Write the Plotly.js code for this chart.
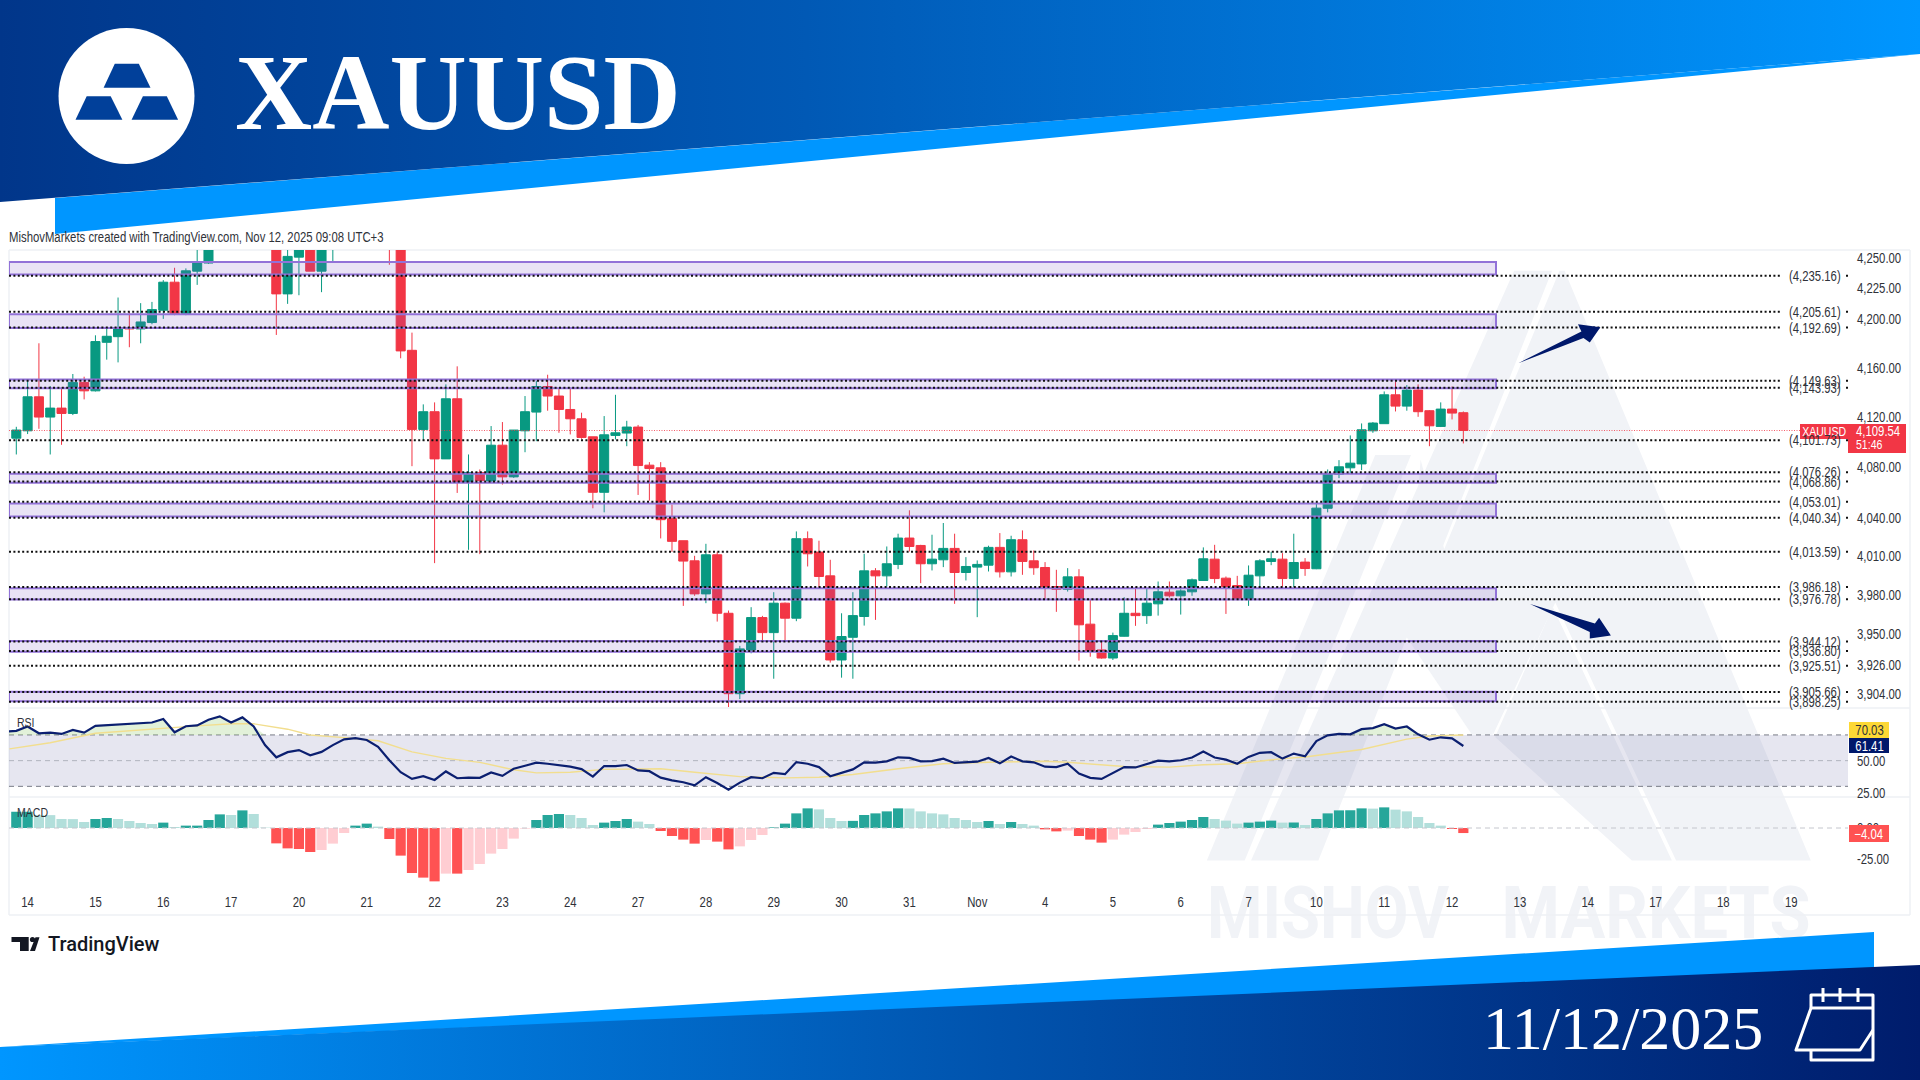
<!DOCTYPE html>
<html>
<head>
<meta charset="utf-8">
<title>XAUUSD</title>
<script src="https://cdn.plot.ly/plotly-3.0.1.min.js"></script>
<style>
html,body{margin:0;padding:0;background:#fff;width:1920px;height:1080px;overflow:hidden}
#bg{position:absolute;left:0;top:0;z-index:0}
#plot{position:absolute;left:0;top:0;width:1920px;height:1080px;z-index:1}
</style>
</head>
<body>
<svg id="bg" width="1920" height="1080" viewBox="0 0 1920 1080" xmlns="http://www.w3.org/2000/svg">
  <defs>
    <linearGradient id="topGrad" gradientUnits="userSpaceOnUse" x1="0" y1="0" x2="1920" y2="0">
      <stop offset="0" stop-color="#01368a"/><stop offset="0.42" stop-color="#0159b5"/><stop offset="1" stop-color="#0096ff"/>
    </linearGradient>
    <linearGradient id="botGrad" gradientUnits="userSpaceOnUse" x1="0" y1="0" x2="1920" y2="0">
      <stop offset="0" stop-color="#0096ff"/><stop offset="0.52" stop-color="#0153ad"/><stop offset="1" stop-color="#001c6c"/>
    </linearGradient>
  </defs>
  <polygon points="55,198 1920,54 55,234" fill="#0096ff"/>
  <polygon points="0,0 1920,0 1920,54 0,202" fill="url(#topGrad)"/>
  <circle cx="126.5" cy="96" r="68" fill="#fff"/>
  <g fill="#01409a">
    <polygon points="114.8,63.7 138.8,63.7 150.5,87.7 103.6,87.7"/>
    <polygon points="86.7,96.3 110.7,96.3 122.4,119.7 75.5,119.7"/>
    <polygon points="142.9,96.3 166.8,96.3 178.1,119.7 131.6,119.7"/>
  </g>
  <g fill="#f1f3f7">
    <polygon points="1206.8,860.6 1375.2,455.1 1411,455.1 1244.7,860.6"/>
    <polygon points="1514.1,270.8 1552,270.8 1318.4,860.6 1251,860.6"/>
    <polygon points="1559.5,270.8 1564.6,270.8 1810.8,860.6 1676.1,860.6 1555.3,602.6 1493,734.8 1438.3,563.6"/>
    <polygon points="1552.8,606.9 1671.9,860.6 1631.9,860.6 1495.1,737"/>
    <polygon points="1420.6,459.5 1493,734.8 1472,734.8 1406.7,637.3"/>
  </g>
  <text x="1328" y="938" text-anchor="middle" font-family="Roboto" font-weight="700" font-size="72" textLength="242" lengthAdjust="spacingAndGlyphs" fill="#f1f3f7">MISHOV</text>
  <text x="1656" y="938" text-anchor="middle" font-family="Roboto" font-weight="700" font-size="72" textLength="309" lengthAdjust="spacingAndGlyphs" fill="#f1f3f7">MARKETS</text>
  <polygon points="0,1047 1874,932 1874,970 0,1047" fill="#0096ff"/>
  <polygon points="0,1047 1920,965 1920,1080 0,1080" fill="url(#botGrad)"/>
  <g fill="none" stroke="#fff" stroke-width="3" stroke-linejoin="round">
    <path d="M1811 1008 V995 H1873 V1060 H1811 V1050"/>
    <path d="M1811 1008 H1873"/>
    <path d="M1811 1008 L1796 1050 H1860 L1873 1030"/>
    <path d="M1823 988 V1002 M1840 988 V1002 M1858 988 V1002"/>
  </g>
  <g fill="#131722">
    <path d="M11.5 937 H28.7 V951 H20 V942 H11.5 Z"/>
    <circle cx="32.5" cy="939.5" r="2.6"/>
    <polygon points="30,951 35.5,937.2 39.5,937.2 35,951"/>
  </g>
</svg>
<div id="plot"></div>
<script>
// ---------- price series (4h bars) ----------
var opens = [
 4103.4,4109.3,4136.6,4120.3,4127.5,4123.2,4148.2,4141.4,4180.7,4185.3,
 4192.7,4191.6,4196.8,4206.9,4229.9,4203.6,4239,4245.7,4270,4292,
 4318,4340,4358,4310,4220.3,4250.6,4270,4239,4265,4285,
 4300,4320,4305,4285,4270,4174.2,4110.4,4124.6,4086.9,4135,
 4068.4,4076.1,4069.4,4097.8,4072.6,4109.3,4124.3,4144.9,4137.2,4126.4,
 4118.9,4104.5,4060.4,4105.6,4107.5,4112.3,4081.9,4079.8,4039.6,4022.3,
 4006.6,3980.9,4011.3,3965.9,3904.3,3937.7,3962.6,3951,3973.7,3962.1,
 4023.9,4013.4,3994.9,3930,3947.4,3963.4,3998.8,3994.9,4003.8,4024.4,
 4018.6,4004.3,4007.4,4016.3,3997.5,4001.7,4003.2,4017.1,3998,4023.1,
 4006.6,4001.4,3986.6,3984.5,3994.1,3957.5,3937.7,3931.5,3948.2,3965.9,
 3964.1,3973.2,3982.2,3979.4,3982.5,3991.3,4007.9,3993.1,3987.4,3976.5,
 3994.9,4006.1,4007.9,3992.8,4005.6,4000.4,4047.8,4074.7,4079.8,4082.9,
 4109.3,4115,4138.2,4129.1,4142,4125.4,4112.8,4126.7,4123.8];
var highs = [
 4112.5,4149.5,4179.9,4145.2,4143.9,4155,4152.8,4186.4,4192.7,4217.3,
 4205.5,4212.7,4213.7,4231.6,4241.8,4241.3,4258.4,4290,4300,4325,
 4345,4365,4381,4330,4262,4275,4285,4280,4290,4310,
 4330,4340,4325,4300,4285,4188.6,4130.5,4132.1,4146.6,4161.2,
 4090.4,4078.5,4113.1,4116.3,4109.9,4137.2,4149.5,4154.4,4143.1,4143.9,
 4123.8,4104.5,4121.1,4138.2,4117.3,4114,4084.3,4084.3,4050.7,4022.3,
 4010.5,4019.9,4013.6,3968,3940.8,3970.6,3963.9,3982.2,3974.2,4029.6,
 4029.6,4022.3,4007.4,3965.9,3982.2,4012.1,4000.9,4017.8,4027.8,4046.2,
 4019.1,4027,4036.2,4027.8,4009.5,4006.9,4018.4,4028.3,4026.2,4030.4,
 4014.7,4005.6,3999.6,4000.9,4000.1,3976.3,3944.9,3951,3978.3,3986.1,
 3985.3,3990.5,3990.5,3984.5,3992.8,4017.1,4019.1,3994.4,3994.9,4003,
 4007.9,4013.6,4012.6,4027.8,4008.7,4052.5,4078.5,4085.9,4105.6,4115.2,
 4116.3,4140.9,4149,4146,4146.6,4125.9,4132.1,4144.9,4124.8];
var lows = [
 4090.4,4106.7,4110.9,4090.4,4098.1,4121.9,4134.5,4140.9,4166.6,4164.4,
 4176.7,4179.9,4195.4,4199.8,4202.8,4202.8,4227.7,4245,4262,4280,
 4300,4325,4290,4186.7,4212.1,4219.2,4239,4221.7,4246.8,4270,
 4285,4295,4275,4244.3,4167.7,4081.1,4101.3,4004.8,4086.9,4059.9,
 4015.2,4011.8,4068.4,4066.5,4071.8,4092.2,4101,4125.4,4107.7,4106.4,
 4102.9,4047.8,4044.6,4102.4,4097,4058.3,4053.8,4024.1,4013.6,3971.6,
 3979.4,3973.7,3959.5,3893.9,3900.2,3935.1,3944.9,3915.7,3944.9,3959.8,
 4002.2,3986.1,3928,3916.5,3915.7,3956.4,3960.8,3986.6,4000.1,4013.9,
 3989.2,3999.1,4001.7,3973.2,3991.3,3962.9,3998.3,3993.6,3994.4,3995.7,
 3995.7,3976.3,3967,3982.7,3929.5,3932.5,3931,3930,3948,3956.2,
 3957.7,3964.1,3978.1,3964.9,3979.4,3991.3,3989.2,3965.4,3976.3,3971.6,
 3986.1,4003.2,3986.6,3986.1,3994.9,4000.1,4044.6,4071.6,4075.3,4077.9,
 4107.7,4115,4124.8,4125.4,4120.5,4097,4112.3,4118.4,4099.2];
var closes = [
 4109.9,4136.6,4120.3,4127.5,4123.2,4148.2,4141.4,4181.3,4185.6,4192.2,
 4191.6,4197.3,4207.4,4229.9,4203.6,4239.3,4246.8,4270,4292,4318,
 4340,4358,4310,4220.3,4251.2,4268,4239,4265,4285,4300,
 4320,4305,4285,4270,4173.7,4110.4,4124.6,4086.9,4135,4068.4,
 4076.1,4069.7,4097.8,4072.6,4109.9,4124.6,4144.9,4137.2,4126.4,4118.9,
 4104,4060.4,4106.1,4107.7,4112.3,4081.6,4079.2,4038.8,4021.8,4006.4,
 3980.9,4011.3,3965.9,3904.3,3938.5,3962.6,3951,3973.7,3962.1,4023.9,
 4012.1,3994.4,3930,3948,3964.1,3998.8,3994.9,4004.3,4024.4,4017.8,
 4004.3,4007.9,4016.3,3997.5,4002.2,4003.8,4017.1,3998,4023.1,4006.1,
 4001.2,3986.1,3984.5,3994.1,3957,3936.6,3931.5,3948.7,3965.9,3964.1,
 3973.7,3982.5,3979.4,3983.2,3991.8,4008.2,3992.8,3986.6,3976.5,3995.4,
 4006.6,4008.2,3992.8,4005.3,4000.6,4047.9,4075.3,4080.6,4083.5,4110.1,
 4115.5,4138.2,4129.1,4142,4124.6,4113.3,4126.7,4123.5,4109.54];

// ---------- indicators ----------
var rsi = [
 73.2,76.6,71.3,71.8,70.8,73.9,71.8,77.1,77.6,78.2,78.2,78.7,79.7,82.4,72.1,76.8,77.4,81.8,84.5,79.7,
 83.7,76.6,62.1,52.6,56.6,58.2,54.2,56.8,62.1,66.6,67.6,66.1,60.8,50.3,41,35.8,37.9,35,41.6,36.3,
 36.8,36.6,40.8,38.2,43.7,46,48.4,47.6,46.3,45.3,43.4,37.6,45.8,45.8,46.6,42.4,41.8,36.8,34.7,33.2,
 30.8,37.1,32.6,27.4,32.9,37.1,36.3,40.5,39.5,48.9,47.6,45,37.9,40.3,43.2,48.7,48.4,49.5,52.6,52.1,
 49.5,49.7,51.6,48.2,48.7,49.2,52.1,47.9,53.2,49.5,48.7,45.3,45,47.6,40,36.6,35.8,40.5,45,44.7,
 47.4,50,49.5,50.3,52.4,57.1,52.4,50.8,47.6,52.9,56.1,56.6,51.6,55.5,53.4,65.3,69.7,70.8,70.5,74.5,
 75.3,78.4,75,76.6,70.5,66.3,68.2,67.4,61.41];
var rsiLead = 72.8;
var rsiMaBars = [-0.6,3,7,10,13,16,19,21,24,26,29,32,35,38,41,44,46,49,52,55,57,60,64,68,71,74,78,82,86,91,93,98,102,105,108,112,114,119,122,123,125,128];
var rsiMa = [59.2,63.9,71.3,73.2,75.5,77.1,78.7,78.7,74.5,70,67.9,65.5,56.8,51.8,48.7,42.9,40.5,41,43.2,43.7,43.7,41,37.6,36.6,37.1,39.2,43.7,47.6,48.7,49.5,48.7,45.5,45,46.8,47.6,51.6,52.9,58.7,64.7,66.8,69.2,70.03];
var macd = [
 13,13,10.4,10.3,7.2,7.1,4.8,7.2,8,7.2,5.6,4,3.2,4.3,0.8,1.9,1.9,6.4,10.9,10.4,
 14.1,11.2,0.3,-12.3,-16.3,-16.8,-19.2,-17.6,-12.5,-4,1.9,3.5,1.1,-8.8,-22.1,-36,-39.7,-42.7,-36.5,-36.5,
 -33.6,-28.8,-20.5,-16.8,-8.5,-0.5,6.4,10.4,11.2,10.4,8,2.4,4.3,5.6,7.2,5.1,3.2,-2.4,-6.4,-9.3,
 -12.5,-9.6,-10.9,-17.1,-14.7,-9.6,-5.6,0.5,3.5,11.7,15.7,14.9,8,5.6,5.7,10.4,11.7,13.3,15.7,15.6,
 13.3,11.7,10.9,8,6.4,4.8,5.6,3.2,4.8,3.2,1.9,-1.1,-2.7,-2.1,-6.4,-9.3,-11.7,-9.3,-5.3,-3.2,
 -0.8,2.7,4,5.1,6.4,8.8,7.2,5.9,3.5,4.3,5.1,5.9,4.3,4.4,2.4,7.2,11.7,14.1,14.2,15.7,
 15.5,16.5,14.7,13.3,8.8,4,1.9,-0.8,-4.04];

// ---------- levels, zones, labels ----------
var levels = [4235.16,4205.61,4192.69,4149.63,4143.93,4101.73,4076.26,4068.86,4053.01,4040.34,4013.59,3986.18,3976.78,3944.12,3936.80,3925.51,3905.66,3898.25];
var zoneTops = [4246.6,4203.5,4150.6,4075,4051.5,3985.3,3944.6,3905.7];
var zoneBottoms = [4236.3,4192.4,4143.4,4068,4041.4,3976.5,3936.4,3898.6];
var lastPrice = 4109.54;
var priceTicks = [4250,4225,4200,4160,4120,4080,4040,4010,3980,3950,3926,3904];
var rsiTicks = [50,25];
var rsiLevels = [70.03,50,30];
var macdTicks = [0,-25];
var dayBars = [1,7,13,19,25,31,37,43,49,55,61,67,73,79,85,91,97,103,109,115,121,127,133,139,145,151,157];
var dayLabels = ['14','15','16','17','20','21','22','23','24','27','28','29','30','31','Nov','4','5','6','7','10','11','12','13','14','17','18','19'];

var W = 1920, H = 1080;
var NARROW = '"Liberation Sans",Arial,sans-serif';
var INK = '#2f3239';
var SQUEEZE = 0.81;
var px = function (X) { return X / W; };
var py = function (Y) { return 1 - Y / H; };
// pane geometry in screen pixels
var plotL = 9, plotR = 1848, firstBarX = 16.3, barStep = 11.305;
var barAt = function (X) { return (X - firstBarX) / barStep; };
var xL = barAt(plotL), xR = barAt(plotR), zoneEnd = barAt(1496), levelEnd = barAt(1780);
var bars = closes.map(function (_, i) { return i; });

function fmt(v) { return v.toLocaleString('en-US', {minimumFractionDigits: 2, maximumFractionDigits: 2}); }

var traces = [];
// zones
zoneTops.forEach(function (t, k) {
  var b = zoneBottoms[k];
  traces.push({type: 'scatter', mode: 'lines', xaxis: 'x', yaxis: 'y', hoverinfo: 'skip', showlegend: false,
    x: [xL, zoneEnd, zoneEnd, xL, xL], y: [t, t, b, b, t], fill: 'toself',
    fillcolor: 'rgba(126,87,194,0.17)', line: {color: '#9272d8', width: 2}});
});
// dotted levels
levels.forEach(function (v) {
  traces.push({type: 'scatter', mode: 'lines', xaxis: 'x', yaxis: 'y', hoverinfo: 'skip', showlegend: false,
    x: [xL, levelEnd, null, barAt(1846), barAt(1848)], y: [v, v, null, v, v],
    line: {color: '#101010', width: 2, dash: '2px,2.4px'}});
});
// last price line
traces.push({type: 'scatter', mode: 'lines', xaxis: 'x', yaxis: 'y', hoverinfo: 'skip', showlegend: false,
  x: [xL, barAt(1800)], y: [lastPrice, lastPrice], line: {color: '#f23645', width: 0.8, dash: '1px,1.5px'}});
// candles
traces.push({type: 'candlestick', xaxis: 'x', yaxis: 'y', x: bars, open: opens, high: highs, low: lows, close: closes,
  whiskerwidth: 0, hoverinfo: 'skip', showlegend: false,
  increasing: {line: {color: '#089981', width: 1}, fillcolor: '#089981'},
  decreasing: {line: {color: '#f23645', width: 1}, fillcolor: '#f23645'}});
// RSI guide lines
rsiLevels.forEach(function (v) {
  traces.push({type: 'scatter', mode: 'lines', xaxis: 'x', yaxis: 'y2', hoverinfo: 'skip', showlegend: false,
    x: [xL, xR], y: [v, v], line: {color: v === 50 ? '#b0b3bd' : '#787b86', width: 1, dash: '5px,4px'}});
});
// RSI overbought fill
var rsiBars = [xL].concat(bars);
var rsiFull = [rsiLead].concat(rsi);
traces.push({type: 'scatter', mode: 'lines', xaxis: 'x', yaxis: 'y2', hoverinfo: 'skip', showlegend: false,
  x: rsiBars, y: rsiBars.map(function () { return rsiLevels[0]; }), line: {width: 0, color: 'rgba(0,0,0,0)'}});
traces.push({type: 'scatter', mode: 'lines', xaxis: 'x', yaxis: 'y2', hoverinfo: 'skip', showlegend: false,
  x: rsiBars, y: rsiFull.map(function (v) { return Math.max(v, rsiLevels[0]); }), fill: 'tonexty',
  fillcolor: 'rgba(150,205,120,0.28)', line: {width: 0, color: 'rgba(0,0,0,0)'}});
traces.push({type: 'scatter', mode: 'lines', xaxis: 'x', yaxis: 'y2', hoverinfo: 'skip', showlegend: false,
  x: rsiMaBars, y: rsiMa, line: {color: '#f2de8e', width: 1.4}});
traces.push({type: 'scatter', mode: 'lines', xaxis: 'x', yaxis: 'y2', hoverinfo: 'skip', showlegend: false,
  x: rsiBars, y: rsiFull, line: {color: '#0b1f70', width: 2.2}});
// MACD
traces.push({type: 'scatter', mode: 'lines', xaxis: 'x', yaxis: 'y3', hoverinfo: 'skip', showlegend: false,
  x: [xL, xR], y: [0, 0], line: {color: '#c4c6cd', width: 1, dash: '5px,4px'}});
var macdColors = macd.map(function (v, i) {
  var prev = i ? macd[i - 1] : v;
  if (v >= 0) return v >= prev ? '#26a69a' : '#b2dfdb';
  return v <= prev ? '#ff5252' : '#ffcdd2';
});
traces.push({type: 'bar', xaxis: 'x', yaxis: 'y3', x: bars, y: macd, width: 0.9, hoverinfo: 'skip', showlegend: false,
  marker: {color: macdColors, line: {width: 0}}});

function rect(x0, y0, x1, y1, color) {
  return {type: 'rect', xref: 'paper', yref: 'paper', x0: px(x0), x1: px(x1), y0: py(y0), y1: py(y1), fillcolor: color, line: {width: 0}, layer: 'above'};
}
function poly(points, color) {
  var d = points.map(function (p, i) { return (i ? 'L' : 'M') + px(p[0]) + ' ' + py(p[1]); }).join(' ') + ' Z';
  return {type: 'path', xref: 'paper', yref: 'paper', path: d, fillcolor: color, line: {width: 0}, layer: 'above'};
}
function frameLine(x0, y0, x1, y1) {
  return {type: 'line', xref: 'paper', yref: 'paper', x0: px(x0), x1: px(x1), y0: py(y0), y1: py(y1), line: {color: '#eef0f5', width: 1.5}, layer: 'below'};
}
var NAVY = '#00186b';
var shapes = [
  frameLine(9, 250, 1910, 250), frameLine(9, 915, 1910, 915), frameLine(9, 250, 9, 915), frameLine(1910, 250, 1910, 915),
  frameLine(9, 708, 1910, 708), frameLine(9, 797, 1910, 797),
  {type: 'rect', xref: 'x', yref: 'y2', x0: xL, x1: xR, y0: rsiLevels[2], y1: rsiLevels[0], fillcolor: 'rgba(115,115,170,0.18)', line: {width: 0}, layer: 'below'},
  poly([[1518.3,363.2],[1581.4,331.6],[1578,324.2],[1600.4,327.2],[1589.8,342.4],[1583.5,338]], NAVY),
  poly([[1530,603.9],[1594.9,623.4],[1599.1,617.8],[1610.9,635.5],[1589.8,638.6],[1589.8,632.1]], NAVY),
  rect(1800, 424, 1848, 439, '#f23645'),
  rect(1848, 424, 1906, 453, '#f23645'),
  rect(1849, 722, 1889, 738, '#fdd835'),
  rect(1849, 738, 1889, 753, NAVY),
  rect(1849, 825, 1889, 842, '#ff5252')
];

function label(X, Y, text, size, color, family, anchor, weight) {
  return {xref: 'paper', yref: 'paper', x: px(X), y: py(Y), text: text, showarrow: false,
    xanchor: anchor || 'left', align: anchor || 'left', yanchor: 'middle',
    font: {size: size, color: color || INK, family: family || NARROW, weight: weight || 400},
    borderpad: 0, borderwidth: 0};
}
var annotations = [
  label(458, 93, 'XAUUSD', 107, '#ffffff', '"Liberation Serif",serif', 'center', 700),
  label(1623, 1028, '11/12/2025', 62, '#ffffff', '"Liberation Serif",serif', 'center', 400),
  label(9, 237, 'MishovMarkets created with TradingView.com, Nov 12, 2025 09:08 UTC+3', 14, INK),
  label(48, 944, 'TradingView', 20, '#131722', 'Roboto,sans-serif', 'left', 500),
  label(17, 722, 'RSI', 13, INK),
  label(17, 812, 'MACD', 13, INK),
  label(1824, 431.5, 'XAUUSD', 13, '#ffffff', null, 'center'),
  label(1856, 431, fmt(lastPrice), 14, '#ffffff'),
  label(1856, 445, '51:46', 13, '#ffffff'),
  label(1869, 730, fmt(rsiMa[rsiMa.length - 1]), 14, '#2f3239', null, 'center'),
  label(1869, 745.5, fmt(rsi[rsi.length - 1]), 14, '#ffffff', null, 'center'),
  label(1869, 834, fmt(macd[macd.length - 1]).replace('-', '\u2212'), 14, '#ffffff', null, 'center')
];
levels.forEach(function (v) {
  annotations.push({xref: 'x', yref: 'y', x: barAt(1788), y: Math.log10(v), text: '(' + fmt(v) + ')', showarrow: false,
    xanchor: 'left', align: 'left', yanchor: 'middle', font: {size: 14, color: INK, family: NARROW}, borderpad: 0});
});

var layout = {
  width: W, height: H, autosize: false,
  margin: {l: 0, r: 0, t: 0, b: 0, pad: 0},
  paper_bgcolor: 'rgba(0,0,0,0)', plot_bgcolor: 'rgba(0,0,0,0)',
  showlegend: false, hovermode: false, dragmode: false, boxgap: 0.2, boxgroupgap: 0,
  font: {family: NARROW, size: 14, color: INK},
  xaxis: {domain: [px(plotL), px(plotR)], range: [xL, xR], anchor: 'y3', type: 'linear',
    rangeslider: {visible: false}, showgrid: false, zeroline: false, showline: false, ticks: '',
    tickmode: 'array', tickvals: dayBars, ticktext: dayLabels, ticklabelstandoff: 4,
    tickfont: {size: 14, color: INK, family: NARROW}},
  yaxis: {domain: [py(707), py(250)], type: 'log',
    range: [Math.log10(3894.2), Math.log10(4256.5)], side: 'right', anchor: 'x',
    showgrid: false, zeroline: false, showline: false, ticks: '',
    tickmode: 'array', tickvals: priceTicks, ticktext: priceTicks.map(fmt), ticklabelstandoff: 8,
    tickfont: {size: 14, color: INK, family: NARROW}},
  yaxis2: {domain: [py(797), py(708)], range: [21.7, 91], side: 'right', anchor: 'x',
    showgrid: false, zeroline: false, showline: false, ticks: '',
    tickmode: 'array', tickvals: rsiTicks, ticktext: rsiTicks.map(fmt), ticklabelstandoff: 8,
    tickfont: {size: 14, color: INK, family: NARROW}},
  yaxis3: {domain: [py(888), py(798)], range: [-48, 24], side: 'right', anchor: 'x',
    showgrid: false, zeroline: false, showline: false, ticks: '',
    tickmode: 'array', tickvals: macdTicks, ticktext: macdTicks.map(fmt), ticklabelstandoff: 8,
    tickfont: {size: 14, color: INK, family: NARROW}},
  shapes: shapes,
  annotations: annotations
};

// the original uses a condensed face: narrow the small texts to the same widths
function narrowTexts() {
  var els = document.querySelectorAll('#plot .xtick text, #plot .ytick text, #plot .y2tick text, #plot .y3tick text, #plot .annotation-text');
  Array.prototype.forEach.call(els, function (el) {
    var fs = parseFloat(window.getComputedStyle(el).fontSize);
    if (fs > 15) return;
    var len = el.getComputedTextLength();
    if (len > 0) {
      el.setAttribute('textLength', (len * SQUEEZE).toFixed(2));
      el.setAttribute('lengthAdjust', 'spacingAndGlyphs');
    }
  });
}
Plotly.newPlot('plot', traces, layout, {displayModeBar: false, staticPlot: true, responsive: false}).then(narrowTexts);
</script>
</body>
</html>
